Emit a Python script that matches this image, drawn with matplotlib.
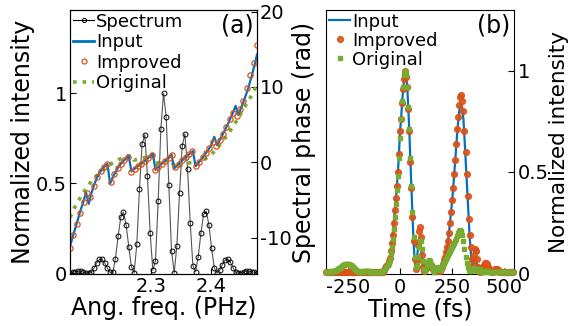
import numpy as np
import matplotlib
matplotlib.use('Agg')
import matplotlib.pyplot as plt
from matplotlib.lines import Line2D

plt.rcParams['font.family'] = 'DejaVu Sans'
plt.rcParams['axes.unicode_minus'] = False

# ---- (a) 频谱与相位 ----
w_lo, w_hi = 2.167, 2.475
w_spec = np.linspace(w_lo, w_hi, 71)     # 频率采样网格
w_imp = np.linspace(w_lo, w_hi, 56)      # Improved 的采样网格

spectrum = [0.0014, 0.0054, 0.0097, 0.0119, 0.0109, 0.0070, 0.0026, 0.0001,
            0.0058, 0.029, 0.058, 0.077, 0.077, 0.057, 0.028, 0.005,
            0.005, 0.080, 0.205, 0.311, 0.340, 0.270, 0.146, 0.036,
            0.0025, 0.16, 0.469, 0.72, 0.77, 0.538, 0.226, 0.017,
            0.070, 0.400, 0.80, 1.0, 0.87, 0.49, 0.125,
            0.0025, 0.153, 0.448, 0.705, 0.775, 0.581, 0.28, 0.043,
            0.0085, 0.092, 0.223, 0.327, 0.345, 0.268, 0.139, 0.030,
            0.0007, 0.017, 0.048, 0.073, 0.079, 0.062, 0.032, 0.0064,
            0.0001, 0.0026, 0.0071, 0.0109, 0.0119, 0.0097, 0.0054, 0.0014]

phase_input = [-11.1, -9.9, -8.7, -7.5, -6.3, -5.2, -4.0,
               -5.5, -4.1, -3.0, -2.1, -1.4, -0.9, -0.5, -0.2,
               -2.8, -2.0, -1.3, -0.7, -0.2, 0.2, 0.5, 0.8,
               -1.2, -0.9, -0.6, -0.35, -0.1, 0.2, 0.5, 0.8, 1.15,
               -1.0, -0.65, -0.3, 0.0, 0.3, 0.6, 1.05,
               -0.8, -0.45, -0.1, 0.25, 0.6, 0.9, 1.2, 1.5,
               -0.5, -0.1, 0.35, 0.8, 1.3, 1.8, 2.4, 3.4,
               2.3, 2.9, 3.6, 4.3, 5.0, 5.8, 6.6, 7.5,
               6.3, 7.2, 8.1, 9.1, 10.2, 11.4, 12.8, 14.3]

phase_original = [-7.3, -6.5, -5.8, -5.2, -4.6, -4.0, -3.5, -3.0, -2.5, -2.1,
                  -1.75, -1.45, -1.15, -0.85, -0.55, -0.3, -0.05, 0.15, 0.35, 0.5,
                  0.62, 0.74, 0.85, 0.95,
                  0.3, 0.38, 0.47, 0.56, 0.65, 0.74, 0.83, 0.92,
                  -0.15, -0.05, 0.05, 0.13, 0.22, 0.3, 0.38,
                  -0.6, -0.5, -0.4, -0.3, -0.2, -0.12, -0.04, 0.03,
                  -0.35, -0.15, 0.05, 0.3, 0.55, 0.8, 1.1, 1.45, 1.85, 2.3,
                  2.75, 3.2, 3.7, 4.2, 4.75, 5.3, 5.9, 6.5, 7.1, 7.7,
                  8.3, 8.9, 9.6, 10.3]

phase_improved = [-11.4, -9.6, -8.2, -6.7, -5.3, -4.1,
                  -4.6, -3.1, -2.0, -1.2, -0.6, -0.2,
                  -2.6, -1.6, -0.8, -0.15, 0.35, 0.7,
                  -1.25, -0.85, -0.5, -0.15, 0.2, 0.55, 0.95,
                  -1.05, -0.6, -0.2, 0.2, 0.6, 1.0,
                  -0.65, -0.2, 0.25, 0.7, 1.05, 1.45,
                  -0.45, 0.1, 0.65, 1.25, 1.9, 2.7,
                  2.2, 2.9, 3.8, 4.7, 5.7, 6.6,
                  6.1, 7.1, 8.1, 9.8, 11.6, 13.2, 15.5]

# ---- (b) 时域强度 ----
t_fs = np.arange(-355, 546, 5)

int_improved = [0.006, 0.005, 0.007, 0.006, 0.004, 0.005, 0.007, 0.008, 0.006, 0.005,
                0.004, 0.006, 0.008, 0.009, 0.007, 0.005, 0.004, 0.006, 0.008, 0.007,
                0.005, 0.004, 0.005, 0.007, 0.009, 0.008, 0.006, 0.004, 0.005, 0.007,
                0.008, 0.006, 0.004, 0.005, 0.006, 0.008, 0.007, 0.005, 0.004, 0.006,
                0.008, 0.007, 0.005, 0.004, 0.006, 0.007, 0.006, 0.005, 0.004, 0.005,
                0.006, 0.007, 0.006, 0.005, 0.006,
                0.006, 0.015, 0.025, 0.035, 0.045, 0.06, 0.075, 0.11, 0.15, 0.19,
                0.25, 0.31, 0.37, 0.43, 0.50, 0.59, 0.70, 0.76, 0.84, 0.91,
                0.96, 1.00, 0.97, 0.92, 0.81, 0.70, 0.55, 0.42, 0.28, 0.16,
                0.07, 0.02, 0.06, 0.14, 0.21, 0.23, 0.18, 0.09, 0.03, 0.01,
                0.02, 0.03, 0.04, 0.05, 0.04, 0.03, 0.04, 0.03, 0.02, 0.01,
                0.015, 0.02, 0.015, 0.01, 0.01, 0.02, 0.03, 0.045, 0.065, 0.08,
                0.105, 0.13, 0.16, 0.20, 0.25, 0.30, 0.36, 0.42, 0.49, 0.56,
                0.64, 0.71, 0.77, 0.83, 0.87, 0.88, 0.85, 0.80, 0.70, 0.60,
                0.49, 0.38, 0.27, 0.19, 0.13, 0.07, 0.04, 0.09, 0.12, 0.11,
                0.07, 0.03, 0.01, 0.005, 0.01, 0.02, 0.03, 0.04, 0.05, 0.05,
                0.045, 0.03, 0.02, 0.01, 0.005, 0.01, 0.015, 0.02, 0.02, 0.02,
                0.015, 0.01, 0.005, 0.005, 0.006, 0.007, 0.006, 0.005, 0.004, 0.005,
                0.006, 0.007, 0.006, 0.005, 0.004, 0.005]

int_input = [0.0, 0.0, 0.0, 0.0, 0.0, 0.0, 0.0, 0.0, 0.0, 0.0,
             0.0, 0.0, 0.0, 0.0, 0.0, 0.0, 0.0, 0.0, 0.0, 0.0,
             0.0, 0.0, 0.0, 0.0, 0.0, 0.0, 0.0, 0.0, 0.0, 0.0,
             0.0, 0.0, 0.0, 0.0, 0.0, 0.0, 0.0, 0.0, 0.0, 0.0,
             0.0, 0.0, 0.0, 0.0, 0.0, 0.0, 0.0, 0.0, 0.0, 0.0,
             0.0, 0.0, 0.0, 0.0, 0.0,
             0.005, 0.015, 0.025, 0.035, 0.045, 0.06, 0.075, 0.11, 0.15, 0.19,
             0.25, 0.31, 0.37, 0.43, 0.50, 0.59, 0.70, 0.76, 0.84, 0.91,
             0.96, 1.00, 0.97, 0.92, 0.81, 0.70, 0.55, 0.42, 0.28, 0.16,
             0.07, 0.02, 0.05, 0.11, 0.16, 0.17, 0.14, 0.07, 0.02, 0.005,
             0.01, 0.02, 0.03, 0.04, 0.035, 0.025, 0.03, 0.02, 0.01, 0.005,
             0.01, 0.015, 0.01, 0.005, 0.005, 0.015, 0.025, 0.04, 0.06, 0.075,
             0.10, 0.125, 0.155, 0.195, 0.245, 0.295, 0.35, 0.41, 0.48, 0.55,
             0.62, 0.69, 0.75, 0.80, 0.83, 0.83, 0.81, 0.76, 0.67, 0.57,
             0.47, 0.36, 0.26, 0.18, 0.11, 0.05, 0.03, 0.06, 0.08, 0.07,
             0.045, 0.02, 0.005, 0.005, 0.01, 0.02, 0.03, 0.04, 0.045, 0.045,
             0.04, 0.025, 0.015, 0.005, 0.0, 0.005, 0.01, 0.015, 0.015, 0.015,
             0.01, 0.005, 0.0, 0.0, 0.0, 0.0, 0.0, 0.0, 0.0, 0.0,
             0.0, 0.0, 0.0, 0.0, 0.0, 0.0]

int_original = [0.005, 0.005, 0.006, 0.006, 0.007, 0.008, 0.009, 0.01, 0.012, 0.014,
                0.017, 0.02, 0.024, 0.028, 0.032, 0.036, 0.039, 0.042, 0.044, 0.045,
                0.045, 0.045, 0.044, 0.042, 0.039, 0.035, 0.03, 0.025, 0.02, 0.016,
                0.012, 0.009, 0.007, 0.006, 0.006, 0.007, 0.009, 0.011, 0.012, 0.012,
                0.011, 0.009, 0.007, 0.006, 0.005, 0.006, 0.007, 0.008, 0.008, 0.007,
                0.006, 0.005, 0.005, 0.006, 0.008,
                0.01, 0.015, 0.02, 0.03, 0.04, 0.05, 0.07, 0.10, 0.13, 0.17,
                0.22, 0.28, 0.34, 0.41, 0.48, 0.57, 0.67, 0.76, 0.85, 0.92,
                0.98, 1.00, 0.98, 0.92, 0.82, 0.71, 0.57, 0.43, 0.30, 0.18,
                0.08, 0.03, 0.04, 0.08, 0.13, 0.16, 0.16, 0.12, 0.06, 0.02,
                0.01, 0.02, 0.04, 0.055, 0.064, 0.06, 0.045, 0.03, 0.015, 0.008,
                0.015, 0.025, 0.03, 0.025, 0.015, 0.02, 0.03, 0.04, 0.05, 0.06,
                0.07, 0.08, 0.09, 0.10, 0.11, 0.12, 0.13, 0.14, 0.15, 0.16,
                0.17, 0.185, 0.20, 0.21, 0.215, 0.21, 0.19, 0.16, 0.12, 0.08,
                0.05, 0.03, 0.015, 0.01, 0.01, 0.015, 0.02, 0.025, 0.02, 0.015,
                0.01, 0.015, 0.02, 0.015, 0.01, 0.008, 0.007, 0.008, 0.01, 0.012,
                0.01, 0.008, 0.006, 0.005, 0.006, 0.007, 0.008, 0.007, 0.006, 0.005,
                0.005, 0.006, 0.007, 0.006, 0.005, 0.005, 0.006, 0.006, 0.005, 0.005,
                0.006, 0.006, 0.005, 0.005, 0.006, 0.006]

c_blue = '#0072BD'
c_orange = '#D95319'
c_green = '#77AC30'

fs_tick = 14
fs_label = 17
fs_leg = 13

fig = plt.figure(figsize=(5.71, 3.26), dpi=100)
ax1 = fig.add_axes([0.1226, 0.1595, 0.3275, 0.8098])
ax2 = ax1.twinx()

# 光谱
ax1.plot(w_spec, spectrum, color='#555555', lw=0.8, marker='o', ms=3.5,
         mfc='none', mec='black', mew=0.7)
ax1.set_xlim(w_lo, w_hi)
ax1.set_ylim(-0.004, 1.463)
ax1.set_yticks([0, 0.5, 1])
ax1.set_yticklabels(['0', '0.5', '1'])
ax1.set_xticks([2.3, 2.4])
ax1.set_xticklabels(['2.3', '2.4'])
ax1.set_xlabel('Ang. freq. (PHz)', fontsize=fs_label, labelpad=0)
ax1.set_ylabel('Normalized intensity', fontsize=fs_label, labelpad=1)

# 相位
ax2.plot(w_spec, phase_original, color=c_green, lw=2.6, ls=':',
         dash_capstyle='butt')
ax2.plot(w_spec, phase_input, color=c_blue, lw=1.6)
ax2.plot(w_imp, phase_improved, ls='none', marker='o', ms=3.8, mfc='none',
         mec=c_orange, mew=0.9)
ax2.set_ylim(-14.8, 20.2)
ax2.set_yticks([-10, 0, 10, 20])
ax2.set_ylabel('Spectral phase (rad)', fontsize=fs_label, labelpad=0)

for ax in (ax1, ax2):
    ax.tick_params(direction='in', length=4, width=0.8, labelsize=fs_tick, pad=2)

handles = [Line2D([], [], color='black', lw=0.8, marker='o', ms=3, mfc='none', mew=0.7),
           Line2D([], [], color=c_blue, lw=2),
           Line2D([], [], ls='none', marker='o', ms=3.6, mfc='none', mec=c_orange, mew=0.9),
           Line2D([], [], color=c_green, lw=2.6, ls=':', dash_capstyle='butt')]
ax2.legend(handles, ['Spectrum', 'Input', 'Improved', 'Original'], loc='upper left',
           frameon=False, fontsize=fs_leg, handlelength=1.2, handletextpad=0.1,
           labelspacing=0.14, borderaxespad=0.1, borderpad=0.05, numpoints=1)
ax1.text(0.98, 0.985, '(a)', transform=ax1.transAxes, ha='right', va='top',
         fontsize=fs_label)

# ---- (b) ----
ax3 = fig.add_axes([0.5709, 0.1595, 0.3292, 0.8098])
ax3.plot(t_fs, int_input, color=c_blue, lw=1.6, label='Input', zorder=2)
ax3.plot(t_fs, int_improved, ls='none', marker='o', ms=4.2, color=c_orange,
         mec=c_orange, alpha=0.9, label='Improved', zorder=3, clip_on=False)
ax3.plot(t_fs, int_original, ls='none', marker='s', ms=2.8, color=c_green,
         mec=c_green, label='Original', zorder=4, clip_on=False)
ax3.set_xlim(-356, 548)
ax3.set_ylim(-0.004, 1.30)
ax3.set_xticks([-250, 0, 250, 500])
ax3.yaxis.tick_right()
ax3.yaxis.set_label_position('right')
ax3.set_yticks([0, 0.5, 1])
ax3.set_yticklabels(['0', '0.5', '1'])
ax3.tick_params(direction='in', length=4, width=0.8, labelsize=fs_tick)
ax3.tick_params(axis='x', pad=3)
ax3.tick_params(axis='y', pad=3)
ax3.set_xlabel('Time (fs)', fontsize=fs_label, labelpad=0)
ax3.set_ylabel('Normalized intensity', fontsize=15.5, labelpad=0)
ax3.legend(loc='upper left', frameon=False, fontsize=fs_leg, handlelength=1.2,
           handletextpad=0.1, labelspacing=0.05, borderaxespad=0.1, borderpad=0.05,
           numpoints=1)
ax3.text(0.98, 0.985, '(b)', transform=ax3.transAxes, ha='right', va='top',
         fontsize=fs_label)

fig.savefig('out.png', dpi=100)
